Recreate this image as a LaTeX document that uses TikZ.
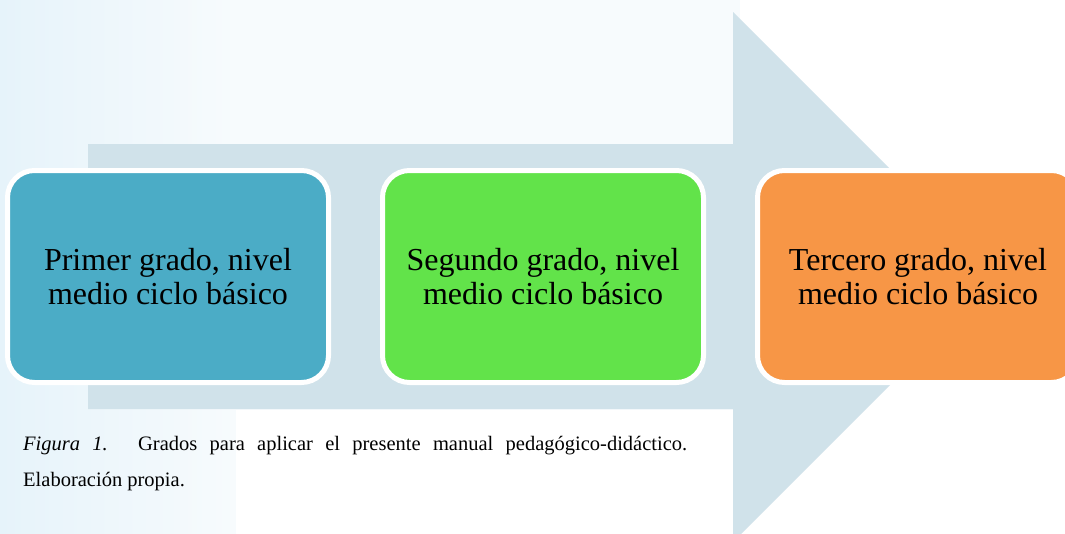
\documentclass[tikz,border=0pt]{standalone}
\usepackage{fontspec}
\setmainfont{Liberation Serif}
\definecolor{arrowc}{RGB}{208,226,234}
\definecolor{cA}{RGB}{75,172,198}
\definecolor{cB}{RGB}{98,227,74}
\definecolor{cC}{RGB}{247,150,70}
\definecolor{bgA}{RGB}{230,243,250}
\definecolor{bgB}{RGB}{247,251,253}
\tikzset{
  stagebox/.style={draw=white, line width=5pt, rounded corners=27pt,
    minimum width=321pt, minimum height=212pt, inner sep=0pt,
    align=center, text=black, font=\fontsize{32}{33.5}\selectfont},
  captext/.style={anchor=base west, inner sep=0pt, text=black,
    font=\fontsize{20.5}{24}\selectfont}
}
\begin{document}
\begin{tikzpicture}[x=1pt,y=-1pt]
\path[use as bounding box] (0,0) rectangle (1065,533);
\begin{scope}
\clip (0,0) rectangle (1065,533);
% faint background
\fill[bgB] (0,0) rectangle (1065,533);
\shade[left color=bgA, right color=bgB] (0,0) rectangle (236,533);
\fill[white] (236,410) rectangle (1065,533);
\fill[white] (740,0) rectangle (1065,533);
% big arrow
\fill[arrowc] (88,144) -- (733,144) -- (733,12) -- (998,277)
  -- (733,542) -- (733,409) -- (88,409) -- cycle;
% stages
\node[stagebox, fill=cA] (b1) at (168,276.5) {Primer grado, nivel\\medio ciclo básico};
\node[stagebox, fill=cB] (b2) at (543,276.5) {Segundo grado, nivel\\medio ciclo básico};
\node[stagebox, fill=cC] (b3) at (918,276.5) {Tercero grado, nivel\\medio ciclo básico};
% caption
\node[captext] (cap1) at (23,450.5) {\makebox[664pt][s]{\textit{Figura 1.}\hspace{2pt} Grados para aplicar el presente manual pedagógico-didáctico.}};
\node[captext] (cap2) at (23,486) {Elaboración propia.};
\end{scope}
\end{tikzpicture}
\end{document}
